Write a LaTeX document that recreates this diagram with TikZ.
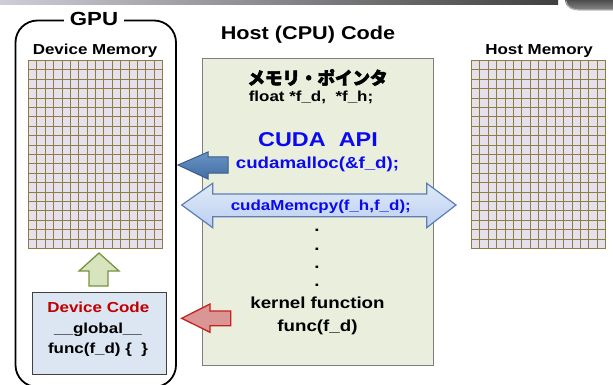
\documentclass[tikz,border=0pt]{standalone}
\usepackage{fontspec}
\setmainfont{Liberation Sans}[FakeStretch=1.17]
\newfontfamily\jpfont{Noto Sans CJK JP}[FakeBold=3]
\definecolor{memfill}{HTML}{E6E0EC}
\definecolor{memline}{HTML}{8C7D40}
\definecolor{hostfill}{HTML}{EAEEDD}
\definecolor{hostline}{HTML}{7F7F7F}
\definecolor{devfill}{HTML}{DCE6F2}
\definecolor{apiblue}{HTML}{0A0AF0}
\definecolor{devred}{HTML}{C00000}
\definecolor{greenfill}{HTML}{D7E4BD}
\definecolor{greenline}{HTML}{77933C}
\definecolor{redfill}{HTML}{D99694}
\definecolor{redline}{HTML}{C8201D}
\definecolor{bluefill}{HTML}{4F81BD}
\definecolor{blueline}{HTML}{385D8A}
\definecolor{lightblue}{HTML}{C6D9F1}
\definecolor{lightline}{HTML}{5B7FB5}
\newcommand\fsz[1]{\fontsize{#1}{#1}\selectfont}
\tikzset{
  % 16 x 20 memory cells, lines snapped to whole points
  memgrid/.pic={
    \fill[memfill] (0,0) rectangle (134,188);
    \foreach \i in {0,...,16} {
      \pgfmathsetmacro\gx{round(\i*8.375)}
      \draw[memline,line width=1.2pt] (\gx,0) -- (\gx,188);
    }
    \foreach \j in {0,...,20} {
      \pgfmathsetmacro\gy{round(\j*9.4)}
      \draw[memline,line width=1.2pt] (0,\gy) -- (134,\gy);
    }
  },
  lbl/.style={anchor=base,inner sep=0pt,font=\bfseries},
  greenarrow/.style={fill=greenfill,draw=greenline,line width=1.3pt,line join=miter},
  redarrow/.style={fill=redfill,draw=redline,line width=1.3pt,line join=miter},
  bluearrow/.style={top color=bluefill!85!white,bottom color=bluefill!85!black,draw=blueline,line width=1pt,line join=miter},
  memcpyarrow/.style={top color=lightblue!55!white,bottom color=lightblue!95!blue,draw=lightline,line width=1.2pt,line join=miter},
}
\begin{document}
\begin{tikzpicture}[x=1pt,y=-1pt]
\useasboundingbox (0,0) rectangle (613,385);
\clip (0,0) rectangle (613,385);

% title bar and corner ornament
\shade[left color=blue!10!gray!35, right color=black!75] (0,0) rectangle (558,4.5);
\shade[top color=black!70, bottom color=black!45] (565,0) .. controls (566,8) and (572,10.5) .. (582,10.5) -- (613,10.5) -- (613,0) -- cycle;
\draw[black!30,line width=0.8pt] (566,0.5) .. controls (567,7.5) and (572,9.8) .. (582,9.8) -- (613,9.8);

% GPU frame
\draw[line width=1.8pt,rounded corners=22pt] (15.5,20.5) rectangle (176,387);
\node[lbl,fill=white,inner xsep=6pt,inner ysep=2pt] (gpu) at (94,26) {\fsz{19}GPU};

% memories
\node[lbl] (devmemlbl) at (95,55) {\fsz{14.5}Device Memory};
\pic at (28.5,60.5) {memgrid};
\coordinate (devmem) at (95.5,154.5);
\node[lbl] (hostmemlbl) at (539,55) {\fsz{14.5}Host Memory};
\pic at (471.5,60.5) {memgrid};
\coordinate (hostmem) at (538.5,154.5);

% host code block
\node[lbl] (hosttitle) at (308,40) {\fsz{18.5}Host (CPU) Code};
\node[draw=hostline,fill=hostfill,line width=1pt,minimum width=231.3pt,minimum height=306.7pt,inner sep=0pt,anchor=north west] (hostbox) at (201.7,58.3) {};
\node[lbl] (ptr) at (317.5,84.5) {\jpfont\fsz{17.5}メモリ・ポインタ};
\node[lbl] (decl) at (311,101.5) {\fsz{14.5}float *f\_d,\ \ *f\_h;};
\node[lbl,text=apiblue] (api) at (318,146.5) {\fsz{20}CUDA\ \ API};

% cudamalloc: allocation on the device
\draw[bluearrow] (178,165) -- (208,152) -- (208,157) -- (228,157) -- (228,173) -- (208,173) -- (208,179) -- cycle;
\node[lbl,text=apiblue] (malloc) at (317.5,168.3) {\fsz{16}cudamalloc(\&f\_d);};

% cudaMemcpy: transfer both ways
\draw[memcpyarrow] (181.7,205) -- (212.7,183.3) -- (212.7,194) -- (426.7,194) -- (426.7,183.3) -- (456,205) -- (426.7,227.7) -- (426.7,216.7) -- (212.7,216.7) -- (212.7,227.7) -- cycle;
\node[lbl,text=apiblue] (memcpy) at (320.8,210.7) {\fsz{14.5}cudaMemcpy(f\_h,f\_d);};

% ellipsis
\foreach \y [count=\k] in {228,247,265,283}
  \node[lbl] (dot\k) at (317,\y+3) {\fsz{16}.};

\node[lbl] (kernel) at (317.5,308.7) {\fsz{16}kernel function};
\node[lbl] (call) at (317.5,331.7) {\fsz{16}func(f\_d)};

% kernel launch
\draw[redarrow] (181.7,318.3) -- (210,304) -- (210,311) -- (230.7,311) -- (230.7,325.7) -- (210,325.7) -- (210,332.3) -- cycle;

% device code block
\node[draw=black!75,fill=devfill,line width=1pt,minimum width=134pt,minimum height=82pt,inner sep=0pt,anchor=north west] (devbox) at (31.7,292) {};
\node[lbl,text=devred] (devcode) at (98.3,312.7) {\fsz{14.5}Device Code};
\node[lbl] (global) at (98,333.3) {\fsz{14.5}\_\_global\_\_};
\node[lbl] (func) at (98,353.5) {\fsz{14.5}func(f\_d) \{\ \ \}};

% device code works on device memory
\draw[greenarrow] (99,253) -- (119,271) -- (108,271) -- (108,286) -- (89,286) -- (89,271) -- (79,271) -- cycle;
\end{tikzpicture}
\end{document}
